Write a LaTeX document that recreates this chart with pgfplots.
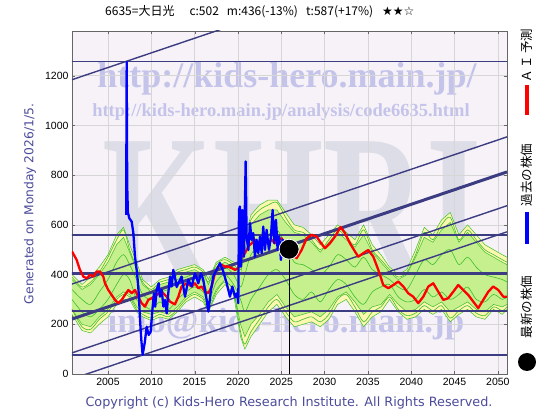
\documentclass[border=0pt]{standalone}
\usepackage{pgfplots}
\pgfplotsset{compat=1.18}
\usepackage{pgfplotstable}
\usepackage{fontspec}
\setmainfont{Liberation Sans}
\newfontfamily\jpfont{Noto Sans CJK JP}
\newfontfamily\djfont{DejaVu Sans}
\newfontfamily\wmfont{Liberation Serif}
\definecolor{bgc}{HTML}{F7F2F8}
\definecolor{gridc}{HTML}{D6D6D6}
\definecolor{navyl}{HTML}{3C3C82}
\definecolor{yelc}{HTML}{FBF6B0}
\definecolor{lgc}{HTML}{C6F08E}
\definecolor{glc}{HTML}{3DBF2A}
\definecolor{wmc}{HTML}{C4C4EA}
\definecolor{khc}{HTML}{DDDDE8}
\definecolor{txtc}{HTML}{4B4B9B}

\pgfplotstableread{
x l1 l2 l3 l4
2000.85 390 300 260 340
2002 350 250 190 300
2003 370 230 180 280
2004 410 260 220 330
2005 470 300 250 380
2006 540 360 300 450
2006.8 580 400 320 480
2007.5 500 380 310 440
2008.3 430 300 260 380
2009 370 280 240 320
2010 340 260 225 300
2011 370 290 240 330
2012 380 260 230 340
2013 410 300 260 380
2014 420 330 300 390
2015 430 350 320 400
2016 410 330 300 370
2016.6 370 290 260 330
2017.5 440 370 330 410
2018.5 460 400 370 430
2019.5 440 360 330 400
2020.3 420 300 170 350
2020.8 530 250 120 400
2021.5 620 300 170 480
2022.5 660 350 220 520
2023.5 680 400 270 560
2024.5 690 420 300 580
2025.5 630 380 250 520
2026.5 580 320 210 450
2027.5 570 300 220 440
2028.5 540 330 230 420
2029.5 500 290 210 400
2030.5 540 340 240 430
2031.5 580 380 300 480
2032.5 550 360 320 460
2033.5 520 310 270 430
2034.5 580 280 210 470
2035.5 500 330 250 420
2036.5 460 350 270 400
2037.5 420 360 310 380
2038.5 390 310 260 350
2039.5 410 290 235 340
2040.5 480 300 245 400
2041.5 570 340 275 460
2042.5 540 310 255 440
2043.5 600 330 275 480
2044.5 630 300 225 500
2045.5 540 320 255 440
2046.5 580 350 275 470
2047.5 540 300 245 430
2048.5 500 290 235 400
2049.5 480 320 270 390
2050.5 460 300 255 380
2051.05 450 310 270 370
}\bandtab

\pgfplotstableread{
x y
2007.10 640
2007.16 1255
2007.22 760
2007.30 650
2007.46 627
2007.74 613
2007.93 567
2008.12 472
2008.31 419
2008.43 379
2008.58 311
2008.70 217
2008.85 137
2009.00 77
2009.24 125
2009.47 190
2009.70 157
2009.93 170
2010.16 271
2010.31 325
2010.45 271
2010.62 338
2010.85 365
2011.00 311
2011.20 338
2011.40 271
2011.58 298
2011.78 244
2011.96 325
2012.16 392
2012.35 352
2012.54 419
2012.73 390
2012.93 350
2013.12 365
2013.50 392
2013.89 311
2014.27 379
2014.66 352
2015.04 405
2015.43 365
2015.73 405
2016.00 379
2016.39 298
2016.58 251
2016.89 338
2017.15 392
2017.54 419
2017.93 446
2018.31 412
2018.70 365
2019.08 311
2019.35 352
2019.66 311
2019.89 325
2020.04 285
2020.12 660
2020.23 674
2020.35 432
2020.50 660
2020.70 472
2020.89 855
2021.00 553
2021.20 499
2021.39 607
2021.58 540
2021.77 567
2021.96 472
2022.16 540
2022.35 486
2022.54 553
2022.74 486
2022.92 593
2023.12 499
2023.31 580
2023.58 499
2023.81 553
2024.00 660
2024.19 526
2024.39 620
2024.58 499
2024.77 553
2024.96 459
2025.16 540
2025.43 499
2025.80 526
2025.90 502
}\bluetab

\pgfplotstableread{
x y
2000.85 493
2001.39 459
2001.77 419
2002.16 392
2002.54 385
2002.93 399
2003.31 392
2003.70 412
2004.08 412
2004.46 392
2004.66 365
2005.04 338
2005.43 318
2005.81 298
2006.20 285
2006.58 298
2006.96 318
2007.35 338
2007.74 325
2008.12 338
2008.50 311
2008.89 285
2009.27 271
2009.65 298
2010.04 305
2010.62 318
2011.20 331
2011.78 311
2012.16 291
2012.73 280
2013.12 311
2013.50 352
2014.08 365
2014.66 352
2015.04 365
2015.43 345
2015.81 352
2016.20 331
2016.58 325
2016.97 352
2017.35 405
2017.73 432
2018.12 439
2018.50 432
2018.89 432
2019.27 426
2019.66 419
2020.04 426
2020.43 472
2020.81 486
2021.20 513
2021.58 526
2021.96 540
2022.35 526
2022.74 540
2023.12 533
2023.50 526
2023.89 540
2024.27 526
2024.66 540
2025.04 546
2025.50 520
2026.20 480
2026.78 466
2027.35 499
2027.93 546
2028.50 560
2029.08 553
2029.46 533
2030.04 506
2030.62 526
2031.20 553
2031.85 591
2032.35 567
2032.93 526
2033.50 493
2033.89 472
2034.46 486
2035.04 499
2035.62 472
2036.20 419
2036.77 358
2037.35 345
2037.93 358
2038.50 372
2039.08 352
2039.65 325
2040.23 311
2040.81 285
2041.39 311
2041.97 352
2042.54 365
2043.12 331
2043.70 298
2044.27 305
2044.85 331
2045.42 358
2046.00 338
2046.58 318
2047.16 291
2047.73 265
2048.31 298
2048.89 331
2049.46 352
2050.04 338
2050.62 311
2051.05 311
}\redtab

\begin{document}
\begin{tikzpicture}[x=1pt,y=1pt]
\path[use as bounding box] (0,0) rectangle (560,420);
\fill[bgc] (72,46) rectangle (507,389);
% watermarks
\node[text=khc, font=\wmfont\bfseries\fontsize{215}{220}\selectfont, inner sep=0pt, xscale=0.66] at (292,208) {KHRI};
\node[text=wmc, font=\wmfont\bfseries\fontsize{36}{40}\selectfont, inner sep=0pt] at (287,341) {http://kids-hero.main.jp/};
\node[text=wmc, font=\wmfont\bfseries\fontsize{18.5}{20}\selectfont, inner sep=0pt] at (281,308) {http://kids-hero.main.jp/analysis/code6635.html};
\node[text=wmc, font=\wmfont\bfseries\fontsize{35}{40}\selectfont, inner sep=0pt] at (286,96) {info@kids-hero.main.jp};

\begin{axis}[at={(72pt,46pt)}, anchor=south west, scale only axis,
  width=435pt, height=343pt,
  xmin=2000.85, xmax=2051.05, ymin=0, ymax=1380,
  xtick={2005,2010,...,2050}, ytick={0,200,...,1200},
  grid=major, grid style={gridc, line width=0.5pt},
  axis line style={black!60, line width=0.6pt},
  major tick length=3pt, tick style={black!60},
  /pgf/number format/assume math mode=true,
  /pgf/number format/1000 sep={},
  tick label style={font=\fontsize{10.5}{12}\selectfont},
  xticklabel style={yshift=-1pt}]
% yellow outer band
\addplot[fill=yelc, draw=glc, line width=0.5pt] coordinates {
(2000.85,400)(2002,360)(2003,390)(2004,430)(2005,480)(2006,560)(2006.8,590)(2007.5,520)(2008.3,450)(2009,380)(2010,350)(2011,380)(2012,390)(2013,420)(2014,430)(2015,440)(2016,420)(2016.6,380)(2017.5,450)(2018.5,470)(2019.5,450)(2020.3,430)(2020.8,550)(2021.5,640)(2022.5,680)(2023.5,700)(2024.5,700)(2025.5,650)(2026.5,600)(2027.5,590)(2028.5,560)(2029.5,520)(2030.5,560)(2031.5,600)(2032.5,570)(2033.5,540)(2034.5,600)(2035.5,520)(2036.5,480)(2037.5,430)(2038.5,400)(2039.5,420)(2040.5,500)(2041.5,590)(2042.5,560)(2043.5,620)(2044.5,650)(2045.5,560)(2046.5,600)(2047.5,560)(2048.5,520)(2049.5,500)(2050.5,480)(2051.05,470)
(2051.05,260)(2050.5,240)(2049.5,260)(2048.5,220)(2047.5,230)(2046.5,260)(2045.5,240)(2044.5,210)(2043.5,260)(2042.5,240)(2041.5,260)(2040.5,230)(2039.5,220)(2038.5,250)(2037.5,300)(2036.5,250)(2035.5,230)(2034.5,190)(2033.5,250)(2032.5,300)(2031.5,280)(2030.5,220)(2029.5,190)(2028.5,210)(2027.5,200)(2026.5,190)(2025.5,230)(2024.5,280)(2023.5,250)(2022.5,200)(2021.5,150)(2020.8,100)(2020.3,150)(2019.5,320)(2018.5,360)(2017.5,320)(2016.6,250)(2016,290)(2015,310)(2014,290)(2013,250)(2012,220)(2011,230)(2010,215)(2009,230)(2008.3,250)(2007.5,300)(2006.8,300)(2006,280)(2005,230)(2004,200)(2003,165)(2002,175)(2000.85,240)
};
% green inner band
\addplot[fill=lgc, draw=glc, line width=0.5pt] coordinates {
(2000.85,380)(2002,340)(2003,360)(2004,400)(2005,450)(2006,520)(2006.8,550)(2007.5,490)(2008.3,420)(2009,360)(2010,330)(2011,360)(2012,370)(2013,400)(2014,410)(2015,420)(2016,400)(2016.6,360)(2017.5,430)(2018.5,450)(2019.5,430)(2020.3,400)(2020.8,500)(2021.5,600)(2022.5,640)(2023.5,660)(2024.5,660)(2025.5,610)(2026.5,570)(2027.5,560)(2028.5,530)(2029.5,490)(2030.5,530)(2031.5,570)(2032.5,540)(2033.5,510)(2034.5,560)(2035.5,490)(2036.5,450)(2037.5,410)(2038.5,380)(2039.5,400)(2040.5,470)(2041.5,550)(2042.5,530)(2043.5,580)(2044.5,610)(2045.5,530)(2046.5,570)(2047.5,530)(2048.5,490)(2049.5,470)(2050.5,450)(2051.05,440)
(2051.05,280)(2050.5,270)(2049.5,280)(2048.5,250)(2047.5,260)(2046.5,290)(2045.5,270)(2044.5,250)(2043.5,290)(2042.5,270)(2041.5,290)(2040.5,260)(2039.5,250)(2038.5,280)(2037.5,320)(2036.5,280)(2035.5,270)(2034.5,240)(2033.5,290)(2032.5,330)(2031.5,310)(2030.5,260)(2029.5,230)(2028.5,250)(2027.5,240)(2026.5,230)(2025.5,270)(2024.5,320)(2023.5,290)(2022.5,240)(2021.5,200)(2020.8,150)(2020.3,200)(2019.5,340)(2018.5,380)(2017.5,340)(2016.6,270)(2016,310)(2015,330)(2014,310)(2013,270)(2012,240)(2011,250)(2010,240)(2009,250)(2008.3,270)(2007.5,320)(2006.8,330)(2006,310)(2005,260)(2004,230)(2003,190)(2002,200)(2000.85,260)
};
\addplot[glc, line width=0.6pt, smooth, tension=0.5] table[x=x,y=l1]{\bandtab};
\addplot[glc, line width=0.6pt, smooth, tension=0.5] table[x=x,y=l2]{\bandtab};
\addplot[glc, line width=0.6pt, smooth, tension=0.5] table[x=x,y=l3]{\bandtab};
\addplot[glc, line width=0.6pt, smooth, tension=0.5] table[x=x,y=l4]{\bandtab};
% horizontal lines
\addplot[navyl, line width=1.4pt] coordinates {(2000,1258) (2052,1258)};
\addplot[navyl, line width=1.4pt] coordinates {(2000,560) (2052,560)};
\addplot[navyl, line width=3.2pt] coordinates {(2000,404) (2052,404)};
\addplot[navyl, line width=1.4pt] coordinates {(2000,254) (2052,254)};
\addplot[navyl, line width=1.4pt] coordinates {(2000,76) (2052,76)};
% diagonal lines
\addplot[navyl, line width=1.4pt] coordinates {(2000.85,1184) (2051.05,1776)};
\addplot[navyl, line width=1.4pt] coordinates {(2000.85,362) (2051.05,954)};
\addplot[navyl, line width=3.0pt] coordinates {(2000.85,221) (2051.05,813)};
\addplot[navyl, line width=1.4pt] coordinates {(2000.85,85) (2051.05,677)};
\addplot[navyl, line width=1.4pt] coordinates {(2000.85,-20) (2051.05,572)};
% series
\addplot[red, line width=2.3pt, line join=round] table[x=x,y=y]{\redtab};
\addplot[blue, line width=2.3pt, line join=round] table[x=x,y=y]{\bluetab};
\addplot[black, line width=0.8pt] coordinates {(2025.9,0) (2025.9,502)};
\addplot[only marks, mark=*, mark size=10pt, mark options={fill=black, draw=white, line width=0.8pt}] coordinates {(2025.9,502)};
\end{axis}

% title
\node[font=\jpfont\fontsize{12}{14}\selectfont, inner sep=0pt, anchor=west] at (105,408) {6635=大日光\hspace{15pt}c:502\hspace{8pt}m:436(-13\%)\hspace{8pt}t:587(+17\%)\hspace{9pt}{\djfont ★★☆}};
% left text
\node[rotate=90, text=txtc, font=\djfont\fontsize{12.3}{14}\selectfont, inner sep=0pt] at (30,216) {Generated on Monday 2026/1/5.};
% copyright
\node[text=txtc, font=\djfont\fontsize{12.8}{14}\selectfont, inner sep=0pt] at (289,17) {Copyright (c) Kids-Hero Research Institute. All Rights Reserved.};
% right legend
\node[rotate=90, font=\jpfont\fontsize{12.5}{14}\selectfont, inner sep=0pt] at (527,364) {Ａ\hspace{2pt}Ｉ\hspace{2pt}予測};
\draw[red, line width=3.5pt] (527,305) -- (527,335);
\node[rotate=90, font=\jpfont\fontsize{12.5}{14}\selectfont, inner sep=0pt] at (527,245) {過去の株価};
\draw[blue, line width=3.5pt] (527,176) -- (527,208);
\node[rotate=90, font=\jpfont\fontsize{12.5}{14}\selectfont, inner sep=0pt] at (527,113) {最新の株価};
\fill[black] (527,58) circle (9pt);
\end{tikzpicture}
\end{document}
